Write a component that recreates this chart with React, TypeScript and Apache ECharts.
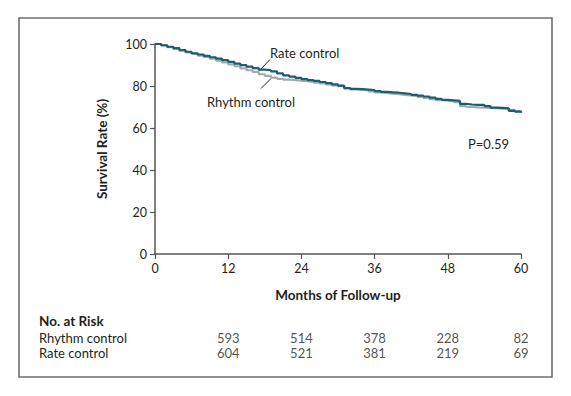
import React, { useEffect, useRef } from "react";
import * as echarts from "echarts";

const months = [0,1,2,3,4,5,6,7,8,9,10,11,12,13,14,15,16,17,18,19,20,21,22,23,24,25,26,27,28,29,30,31,32,33,34,35,36,37,38,39,40,41,42,43,44,45,46,47,48,49,50,51,52,53,54,55,56,57,58,59,60];
const rateControl = [100,99.4,98.7,98.0,97.1,96.3,95.6,95.0,94.3,93.7,93.0,92.3,91.5,90.7,89.9,89.2,88.5,87.8,87.5,87.0,86.0,85.1,84.5,83.9,83.3,82.8,82.4,81.9,81.4,80.8,80.2,79.0,78.6,78.5,78.3,78.1,77.6,77.2,77.0,76.8,76.5,76.2,75.8,75.4,75.0,74.5,73.9,73.4,73.2,72.9,71.5,71.2,71.0,71.0,70.4,69.7,69.6,69.4,68.2,67.8,67.3];
const rhythmControl = [100,99.3,98.5,97.7,96.9,96.0,95.3,94.5,93.8,93.0,92.1,91.2,90.3,89.4,88.4,87.5,86.7,85.6,84.8,84.0,83.4,83.0,82.8,82.6,82.3,82.0,81.6,81.2,80.8,80.3,79.9,79.0,78.4,78.2,77.9,77.4,77.0,76.7,76.4,76.1,75.8,75.5,75.2,74.8,74.3,73.7,73.3,73.0,72.7,72.3,70.4,70.0,69.8,69.7,69.6,69.4,69.2,69.1,68.6,68.0,67.3];

const riskMonths = [12, 24, 36, 48, 60];
const riskRows = ["Rhythm control", "Rate control"];
const rhythmAtRisk = [593, 514, 378, 228, 82];
const rateAtRisk = [604, 521, 381, 219, 69];

const FONT = "Lato";
const TEXT = "#231f20";
const AXIS = "#555";

export default function App() {
  const ref = useRef<HTMLDivElement>(null);
  useEffect(() => {
    if (!ref.current) return;
    const chart = echarts.init(ref.current, null, { renderer: "svg" });
    const riskData: any[] = [];
    riskMonths.forEach((m, i) => {
      riskData.push([m, riskRows[0], rhythmAtRisk[i]]);
      riskData.push([m, riskRows[1], rateAtRisk[i]]);
    });
    chart.setOption({
      animation: false,
      backgroundColor: "#fff",
      textStyle: { fontFamily: FONT, color: TEXT },
      grid: [
        { left: 155, right: 50, top: 44, bottom: 142 },
        { left: 155, right: 50, top: 330, height: 31 },
      ],
      xAxis: [
        {
          gridIndex: 0, type: "value", min: 0, max: 60, interval: 12,
          axisLine: { lineStyle: { color: AXIS, width: 1.5 } },
          axisTick: { show: true, length: 5, lineStyle: { color: AXIS, width: 1.2 } },
          axisLabel: { color: TEXT, fontSize: 12.5, fontFamily: FONT, margin: 8 },
          splitLine: { show: false },
          name: "Months of Follow-up", nameLocation: "middle", nameGap: 34,
          nameTextStyle: { fontWeight: "bold", fontSize: 13.5, color: TEXT, fontFamily: FONT },
        },
        { gridIndex: 1, type: "value", min: 0, max: 60, show: false },
      ],
      yAxis: [
        {
          gridIndex: 0, type: "value", min: 0, max: 100, interval: 20,
          axisLine: { show: true, lineStyle: { color: AXIS, width: 1.5 } },
          axisTick: { show: true, length: 5, lineStyle: { color: AXIS, width: 1.2 } },
          axisLabel: { color: TEXT, fontSize: 12.5, fontFamily: FONT, margin: 8 },
          splitLine: { show: false },
          name: "Survival Rate (%)", nameLocation: "middle", nameGap: 46, nameRotate: 90,
          nameTextStyle: { fontWeight: "bold", fontSize: 13.5, color: TEXT, fontFamily: FONT },
        },
        {
          gridIndex: 1, type: "category", data: riskRows, inverse: true,
          axisLine: { show: false }, axisTick: { show: false }, splitLine: { show: false },
          axisLabel: { interval: 0, hideOverlap: false, align: "left", margin: 116, color: TEXT, fontSize: 13, fontFamily: FONT },
        },
      ],
      series: [
        {
          name: "Rhythm control", type: "line", step: "end", xAxisIndex: 0, yAxisIndex: 0,
          data: months.map((m, i) => [m, rhythmControl[i]]),
          showSymbol: false, symbol: "none",
          lineStyle: { color: "#a2aaad", width: 2.2 },
          z: 2,
        },
        {
          name: "Rate control", type: "line", step: "end", xAxisIndex: 0, yAxisIndex: 0,
          data: months.map((m, i) => [m, rateControl[i]]),
          showSymbol: false, symbol: "none",
          lineStyle: { color: "#1b5e70", width: 2.2 },
          z: 3,
        },
        {
          type: "scatter", xAxisIndex: 1, yAxisIndex: 1, data: riskData,
          symbolSize: 1, itemStyle: { color: "transparent" },
          label: {
            show: true, position: "inside", color: TEXT, fontSize: 13, fontFamily: FONT,
            formatter: (p: any) => String(p.value[2]),
          },
          silent: true,
        },
      ],
      graphic: [
        {
          type: "rect", shape: { x: 19, y: 18, width: 533, height: 359 },
          style: { fill: "none", stroke: "#6f6f6f", lineWidth: 1.6 }, silent: true,
        },
        {
          type: "text", x: 39, y: 321,
          style: { text: "No. at Risk", font: `bold 13.5px ${FONT}`, fill: TEXT, verticalAlign: "middle" },
        },
        {
          type: "text", x: 270, y: 53,
          style: { text: "Rate control", font: `13px ${FONT}`, fill: TEXT, verticalAlign: "middle" },
        },
        {
          type: "line", shape: { x1: 259, y1: 71, x2: 270, y2: 59.5 },
          style: { stroke: TEXT, lineWidth: 1 },
        },
        {
          type: "text", x: 207, y: 102,
          style: { text: "Rhythm control", font: `13px ${FONT}`, fill: TEXT, verticalAlign: "middle" },
        },
        {
          type: "line", shape: { x1: 261, y1: 88.5, x2: 271, y2: 78.5 },
          style: { stroke: TEXT, lineWidth: 1 },
        },
        {
          type: "text", x: 468, y: 144,
          style: { text: "P=0.59", font: `13px ${FONT}`, fill: TEXT, verticalAlign: "middle" },
        },
      ],
    });
    return () => chart.dispose();
  }, []);
  return (
    <div
      ref={ref}
      style={{ position: "fixed", left: 0, top: 0, width: 571, height: 396, background: "#fff" }}
    />
  );
}
